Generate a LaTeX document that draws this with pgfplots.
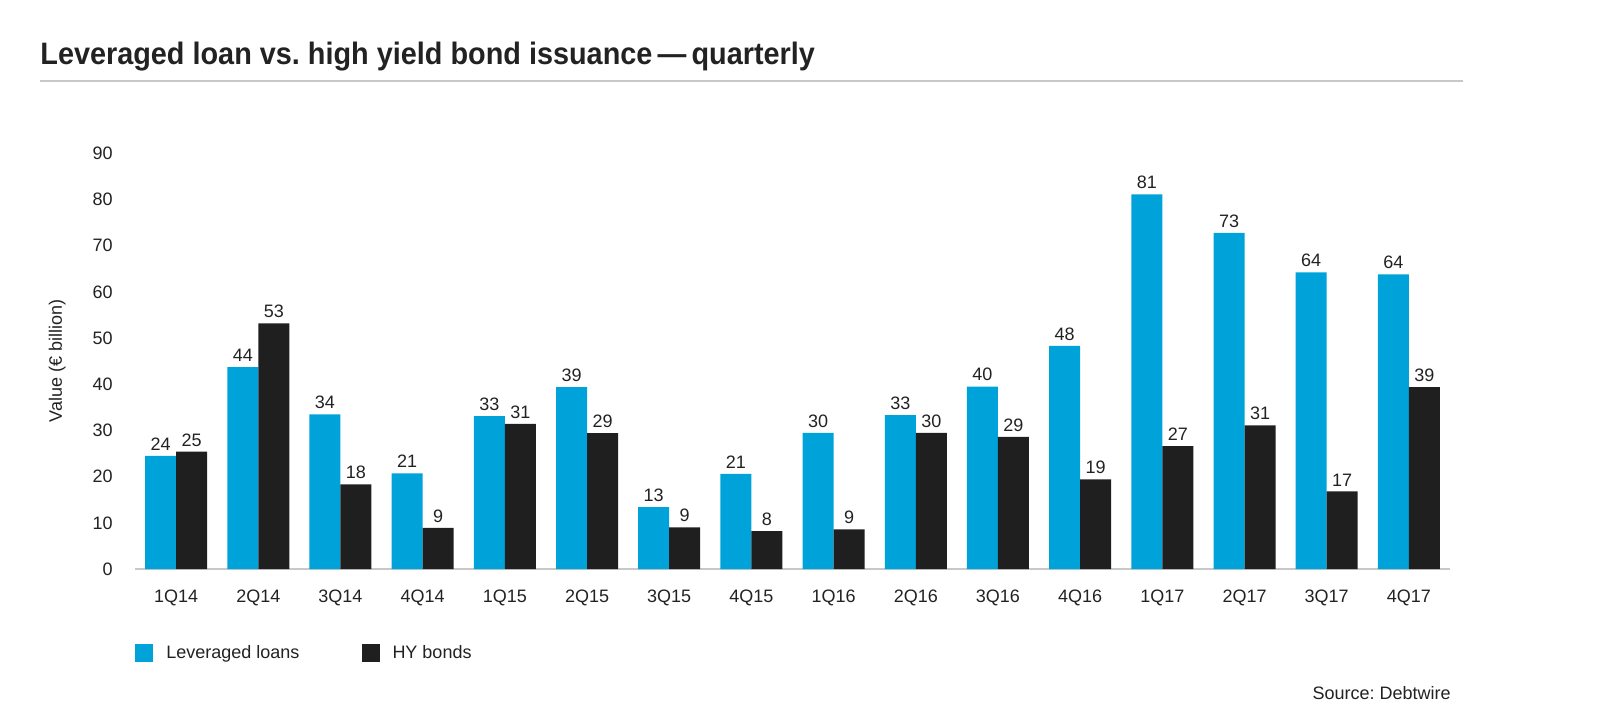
\documentclass[border=0pt]{standalone}
\usepackage{fontspec}
\setmainfont{Liberation Sans}
\newfontfamily\titlefont[FakeStretch=0.93]{Liberation Sans}
\usepackage{pgfplots}
\usepackage{pgfplotstable}
\pgfplotsset{compat=1.18}
\frenchspacing
\definecolor{llblue}{HTML}{00A3D9}
\definecolor{hyblack}{HTML}{1F1F1F}
\definecolor{txt}{HTML}{222222}
\definecolor{rulegray}{HTML}{C8C8C8}

% bar heights (ll, hy) and printed labels
\pgfplotstableread{
x  ll    lllab hy   hylab
0  24.5  24    25.4 25
1  43.7  44    53.2 53
2  33.5  34    18.3 18
3  20.7  21    8.9  9
4  33.1  33    31.4 31
5  39.4  39    29.4 29
6  13.4  13    9.0  9
7  20.6  21    8.2  8
8  29.5  30    8.6  9
9  33.3  33    29.5 30
10 39.5  40    28.6 29
11 48.3  48    19.4 19
12 81.1  81    26.6 27
13 72.8  73    31.1 31
14 64.2  64    16.8 17
15 63.8  64    39.4 39
}\datatable

\begin{document}
\begin{tikzpicture}
\useasboundingbox (0,0) rectangle (800pt,-359pt);

\node[anchor=base west, inner sep=0pt, text=txt] at (20pt,-32pt)
  {\titlefont\bfseries\fontsize{15.5}{18}\selectfont Leveraged loan vs. high yield bond issuance\,—\,quarterly};
\draw[rulegray, line width=1pt] (20pt,-40.35pt) -- (731.5pt,-40.35pt);

\begin{axis}[
    at={(67.5pt,-284.5pt)}, anchor=south west,
    width=657.5pt, height=207.85pt, scale only axis,
    xmin=-0.5, xmax=15.5, ymin=0, ymax=90,
    ybar=0pt, bar width=15.5pt,
    axis x line*=bottom, axis y line*=left,
    x axis line style={rulegray, line width=1pt},
    y axis line style={draw=none},
    xtick={0,...,15},
    xticklabels={1Q14,2Q14,3Q14,4Q14,1Q15,2Q15,3Q15,4Q15,1Q16,2Q16,3Q16,4Q16,1Q17,2Q17,3Q17,4Q17},
    ytick={0,10,...,90},
    major tick length=0pt,
    /pgf/number format/assume math mode=true,
    tick label style={text=txt, font=\fontsize{9}{11}\selectfont},
    xticklabel style={inner sep=0pt, yshift=-10.3pt},
    yticklabel style={inner sep=0pt, xshift=-11pt},
    ylabel={Value (€ billion)},
    ylabel style={at={(axis description cs:-0.0525,0.5)}, anchor=south, inner sep=0pt,
                  text=txt, font=\fontsize{9}{11}\selectfont},
    nodes near coords,
    point meta=explicit,
    every node near coord/.append style={text=txt, font=\fontsize{9}{11}\selectfont,
                  inner sep=0pt, anchor=south, yshift=2.5pt},
    legend columns=2,
    legend style={draw=none, fill=none, inner sep=0pt,
                  at={(axis description cs:0,-0.2021)}, anchor=west,
                  nodes={inner sep=0pt, text=txt, font=\fontsize{9}{11}\selectfont},
                  /tikz/every odd column/.append style={column sep=6.5pt},
                  /tikz/every even column/.append style={column sep=31pt}},
    legend image code/.code={\fill[#1] (0pt,-4.5pt) rectangle (9pt,4.5pt);},
]
\addplot[fill=llblue, draw=none] table[x=x, y=ll, meta=lllab] {\datatable};
\addplot[fill=hyblack, draw=none] table[x=x, y=hy, meta=hylab] {\datatable};
\legend{Leveraged loans, HY bonds}
\end{axis}

\node[anchor=east, inner sep=0pt, text=txt, font=\fontsize{9}{11}\selectfont]
  at (725.5pt,-346.5pt) {Source: Debtwire};
\end{tikzpicture}
\end{document}
